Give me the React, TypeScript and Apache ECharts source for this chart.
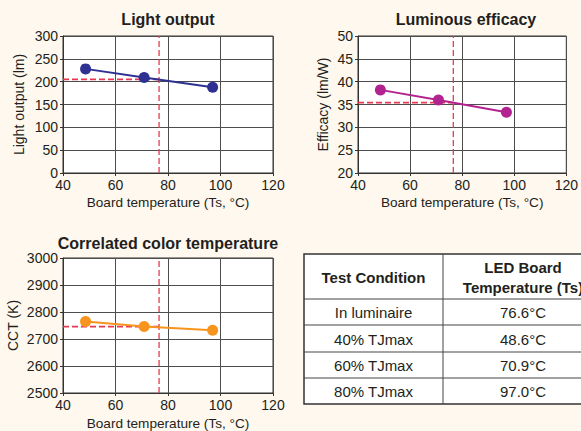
import React, { useEffect, useRef } from "react";
import * as echarts from "echarts";

const temps = [48.6, 70.9, 97.0];
const luminaireTemp = 76.6;
const lightOutput = [228, 209, 188];
const lightOutputAtLum = 205;
const efficacy = [38.2, 36.0, 33.3];
const efficacyAtLum = 35.4;
const cct = [2765, 2746, 2732];
const cctAtLum = 2746;

const titles = ["Light output", "Luminous efficacy", "Correlated color temperature"];
const yNames = ["Light output (lm)", "Efficacy (lm/W)", "CCT (K)"];
const xName = "Board temperature (Ts, °C)";
const yRanges = [
  [0, 300, 50],
  [20, 50, 5],
  [2500, 3000, 100],
];
const xRange = [40, 120, 20];

const tableHeader = ["Test Condition", "LED Board", "Temperature (Ts)"];
const conditions = ["In luminaire", "40% TJmax", "60% TJmax", "80% TJmax"];
const boardTemps = ["76.6°C", "48.6°C", "70.9°C", "97.0°C"];

const FONT = "Liberation Sans, Arial, sans-serif";
const colors = ["#2e3192", "#b3238f", "#f7941d"];
const refColor = "#e8384f";

export default function App() {
  const ref = useRef<HTMLDivElement>(null);
  useEffect(() => {
    if (!ref.current) return;
    const chart = echarts.init(ref.current, null, { renderer: "svg" });
    const grids = [
      { left: 63, top: 36, width: 210, height: 137 },
      { left: 358, top: 36, width: 211, height: 137 },
      { left: 63, top: 258, width: 210, height: 136 },
    ];
    const nameGaps = [37, 28, 43];
    const xNameGaps = [22, 22, 23];
    const series: any[] = [];
    const values = [lightOutput, efficacy, cct];
    const atLum = [lightOutputAtLum, efficacyAtLum, cctAtLum];
    for (let i = 0; i < 3; i++) {
      series.push({
        type: "line",
        xAxisIndex: i,
        yAxisIndex: i,
        data: [
          [xRange[0], atLum[i]],
          [luminaireTemp, atLum[i]],
        ],
        symbol: "none",
        lineStyle: { color: refColor, width: 1.6, type: [6, 3] },
        z: 3,
      });
      series.push({
        type: "line",
        xAxisIndex: i,
        yAxisIndex: i,
        data: [
          [luminaireTemp, yRanges[i][0]],
          [luminaireTemp, yRanges[i][1]],
        ],
        symbol: "none",
        lineStyle: { color: refColor, width: 1.3, type: [6, 3] },
        z: 3,
      });
      series.push({
        type: "line",
        xAxisIndex: i,
        yAxisIndex: i,
        data: temps.map((t, k) => [t, values[i][k]]),
        symbol: "circle",
        symbolSize: 11,
        itemStyle: { color: colors[i] },
        lineStyle: { color: colors[i], width: 2 },
        z: 4,
      });
    }
    const titleText = [
      { x: 168, y: 19 },
      { x: 466, y: 19 },
      { x: 168, y: 243 },
    ];
    const graphic: any[] = titleText.map((p, i) => ({
      type: "text",
      x: p.x,
      y: p.y,
      style: {
        text: titles[i],
        font: `bold 16px ${FONT}`,
        fill: "#231f20",
        align: "center",
        verticalAlign: "middle",
      },
    }));
    // table
    const tl = 304, tt = 254, tr = 604, tb = 404, split = 443;
    const rowLines = [299, 325, 352, 378];
    graphic.push({
      type: "rect",
      shape: { x: tl, y: tt, width: tr - tl, height: tb - tt },
      style: { fill: "#fff", stroke: "#333", lineWidth: 1.5 },
    });
    graphic.push({
      type: "line",
      shape: { x1: split, y1: tt, x2: split, y2: tb },
      style: { stroke: "#444", lineWidth: 1 },
    });
    rowLines.forEach((y) =>
      graphic.push({
        type: "line",
        shape: { x1: tl, y1: y, x2: tr, y2: y },
        style: { stroke: "#444", lineWidth: 1 },
      })
    );
    const c1 = (tl + split) / 2;
    const c2 = 523;
    graphic.push({
      type: "text",
      x: c1,
      y: 277,
      style: { text: tableHeader[0], font: `bold 15px ${FONT}`, fill: "#231f20", align: "center", verticalAlign: "middle" },
    });
    graphic.push({
      type: "text",
      x: c2,
      y: 267,
      style: { text: tableHeader[1], font: `bold 15px ${FONT}`, fill: "#231f20", align: "center", verticalAlign: "middle" },
    });
    graphic.push({
      type: "text",
      x: c2,
      y: 287,
      style: { text: tableHeader[2], font: `bold 15px ${FONT}`, fill: "#231f20", align: "center", verticalAlign: "middle" },
    });
    const rowTops = [299, 325, 352, 378, 404];
    conditions.forEach((c, k) => {
      const cy = (rowTops[k] + rowTops[k + 1]) / 2 + 0.5;
      graphic.push({
        type: "text",
        x: c1,
        y: cy,
        style: { text: c, font: `15px ${FONT}`, fill: "#231f20", align: "center", verticalAlign: "middle" },
      });
      graphic.push({
        type: "text",
        x: c2,
        y: cy,
        style: { text: boardTemps[k], font: `15px ${FONT}`, fill: "#231f20", align: "center", verticalAlign: "middle" },
      });
    });

    const axisCommon = {
      axisLine: { show: true, lineStyle: { color: "#333", width: 1 } },
      axisTick: { show: true, length: 3, lineStyle: { color: "#333" } },
      splitLine: { show: true, lineStyle: { color: "#4d4d4d", width: 1 } },
    };
    const labelStyle = {
      fontSize: 14,
      color: "#231f20",
      fontFamily: FONT,
      margin: 5,
      formatter: (v: number) => String(v),
    };
    chart.setOption({
      animation: false,
      backgroundColor: "#fff8ee",
      grid: grids.map((g) => ({
        ...g,
        show: true,
        backgroundColor: "#ffffff",
        borderColor: "#333",
        borderWidth: 1,
        containLabel: false,
      })),
      xAxis: grids.map((_, i) => ({
        type: "value",
        gridIndex: i,
        min: xRange[0],
        max: xRange[1],
        interval: xRange[2],
        name: xName,
        nameLocation: "middle",
        nameGap: xNameGaps[i],
        nameTextStyle: { fontSize: 13.6, color: "#231f20", fontFamily: FONT },
        ...axisCommon,
        axisLabel: labelStyle,
      })),
      yAxis: grids.map((_, i) => ({
        type: "value",
        gridIndex: i,
        min: yRanges[i][0],
        max: yRanges[i][1],
        interval: yRanges[i][2],
        name: yNames[i],
        nameLocation: "middle",
        nameGap: nameGaps[i],
        nameTextStyle: { fontSize: 14, color: "#231f20", fontFamily: FONT },
        ...axisCommon,
        axisLabel: labelStyle,
      })),
      series,
      graphic,
    });
    return () => chart.dispose();
  }, []);
  return (
    <div
      ref={ref}
      style={{ position: "fixed", left: 0, top: 0, width: 581, height: 431 }}
    />
  );
}
